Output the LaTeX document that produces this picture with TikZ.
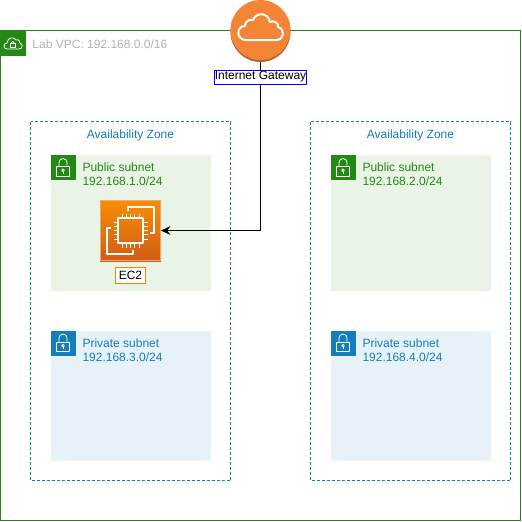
\documentclass[tikz,border=0pt]{standalone}
\usepackage{fontspec}
\setmainfont{Liberation Sans}
\usetikzlibrary{arrows.meta}
\definecolor{awsgreen}{HTML}{248814}
\definecolor{awsblue}{HTML}{147EBA}
\definecolor{vpcgrey}{HTML}{AAB7B8}
\definecolor{pubfill}{HTML}{E9F3E6}
\definecolor{privfill}{HTML}{E6F2F8}
\definecolor{igwfill}{HTML}{F58536}
\definecolor{igwdark}{HTML}{B0652F}
\definecolor{chiptop}{HTML}{F78E04}
\definecolor{chipbot}{HTML}{D05C17}
\definecolor{chipedge}{HTML}{E8AA78}
\definecolor{tagorange}{rgb}{1,0.5,0}
\tikzset{
  x=0.75pt,y=-0.75pt,
  every node/.style={font=\fontsize{9pt}{10.6pt}\selectfont,inner sep=0pt,outer sep=0pt},
  vpcbox/.style={draw=awsgreen,line width=0.75pt},
  azbox/.style={draw=awsblue,line width=0.75pt,dash pattern=on 2.25pt off 1.5pt},
  subnetpub/.style={fill=pubfill},
  subnetpriv/.style={fill=privfill},
  subtxt/.style={align=left,anchor=north west},
  tagbox/.style={fill=white,line width=0.75pt,minimum height=10.9pt,anchor=center},
  iconline/.style={draw=white,line width=0.6pt,line join=round},
  iconthick/.style={draw=white,line width=1.05pt,line join=round},
}
\newcommand{\lockicon}[3]{% x y colour
  \fill[#3] (#1,#2) rectangle ++(25,25);
  \draw[iconline] (#1+6.3,#2+11.5) rectangle (#1+18.8,#2+21);
  \draw[iconline] (#1+8.5,#2+11.5) -- (#1+8.5,#2+7.5) arc[start angle=180,end angle=360,radius=4] -- (#1+16.5,#2+11.5);
  \draw[iconline] (#1+12.5,#2+15.3) circle[radius=1.3];
  \draw[iconline] (#1+12.5,#2+16.6) -- (#1+12.5,#2+18.6);
}
\begin{document}
\begin{tikzpicture}
\useasboundingbox (0,0) rectangle (522,522);
\fill[white] (0,0) rectangle (522,522);
% VPC
\draw[vpcbox] (0.5,30.5) rectangle (520.5,520.5);
\fill[awsgreen] (0,30) rectangle (25.5,55.5);
\draw[white,line width=0.6pt,line join=round] (7,49) .. controls (3,49) and (3.2,43) .. (7,43) .. controls (7.5,37) and (14,36.5) .. (16,40) .. controls (19,39) and (20,41) .. (19.8,43) .. controls (23,43.5) and (23,49) .. (19,49) -- cycle;
\draw[white,line width=0.6pt] (10.3,43) rectangle (15.3,47);
\draw[white,line width=0.5pt] (11.2,43) arc[start angle=180,end angle=360,radius=1.6];
\node[text=vpcgrey,anchor=west] (vpclabel) at (32.5,44.5) {Lab VPC: 192.168.0.0/16};
% Zones
\draw[azbox] (30.5,121.5) rectangle (230.5,480.5);
\draw[azbox] (310.5,121.5) rectangle (510.5,480.5);
\node[text=awsblue] (azl) at (130.5,135) {Availability Zone};
\node[text=awsblue] (azr) at (410.5,135) {Availability Zone};
% Subnets
\fill[subnetpub] (50.5,155) rectangle (210.5,290.5);
\fill[subnetpub] (330.5,155) rectangle (490.5,290.5);
\fill[subnetpriv] (50.5,330.5) rectangle (210.5,460.5);
\fill[subnetpriv] (330.5,330.5) rectangle (490.5,460.5);
\lockicon{50.5}{155}{awsgreen}
\lockicon{330.5}{155}{awsgreen}
\lockicon{50.5}{330.5}{awsblue}
\lockicon{330.5}{330.5}{awsblue}
\node[subtxt,text=awsgreen] (pub1) at (82.5,163) {Public subnet\\192.168.1.0/24};
\node[subtxt,text=awsgreen] (pub2) at (362.5,163) {Public subnet\\192.168.2.0/24};
\node[subtxt,text=awsblue] (priv1) at (82.5,338.5) {Private subnet\\192.168.3.0/24};
\node[subtxt,text=awsblue] (priv2) at (362.5,338.5) {Private subnet\\192.168.4.0/24};
% EC2
\node[minimum width=45.75pt,minimum height=45.75pt] (ec2) at (130.5,230.5) {};
\fill[bottom color=chipbot,top color=chiptop] (100,200) rectangle (161,261);
\draw[draw=chipedge,line width=0.5pt] (100.3,200.3) rectangle (160.7,260.7);
\draw[iconthick] (128,211) -- (128,207) -- (154,207) -- (154,233) -- (150,233);
\draw[iconthick] (133,250) -- (133,254) -- (107,254) -- (107,228) -- (111,228);
\draw[iconthick] (118,218) rectangle (143,243);
\foreach \k in {0,1,2,3,4}{
  \draw[draw=white,line width=0.7pt] (122+\k*4.25,213.5) -- (122+\k*4.25,218);
  \draw[draw=white,line width=0.7pt] (122+\k*4.25,243) -- (122+\k*4.25,247.5);
  \draw[draw=white,line width=0.7pt] (113.5,222+\k*4.25) -- (118,222+\k*4.25);
  \draw[draw=white,line width=0.7pt] (143,222+\k*4.25) -- (147.5,222+\k*4.25);
}
% IGW
\node[circle,minimum size=45pt] (igw) at (260.5,30) {};
\draw[-{Stealth[length=7pt,width=6.5pt]},black,line width=0.75pt] (igw.south) |- (ec2.east);
\fill[igwdark] (260.5,32) circle[radius=30];
\fill[igwfill] (260.5,30) circle[radius=30];
\draw[white,line width=1.5pt,line join=round] (246,40) .. controls (236,40) and (236,26) .. (245,26) .. controls (245,21) and (250,19) .. (253,20) .. controls (256,12) and (268,12) .. (270,22) .. controls (274,20) and (279,23) .. (278,27) .. controls (285,29) and (285,40) .. (276,40) -- cycle;
\node[tagbox,draw=blue,minimum width=69pt,minimum height=10.5pt] (igwlabel) at (260.5,77) {\raisebox{-1pt}{Internet Gateway}};
\fill[tagorange] (115,267) rectangle (146,284);
\node[tagbox,minimum width=21.75pt,minimum height=11.25pt] (ec2label) at (130.5,275.5) {\raisebox{-1pt}{EC2}};
\end{tikzpicture}
\end{document}
